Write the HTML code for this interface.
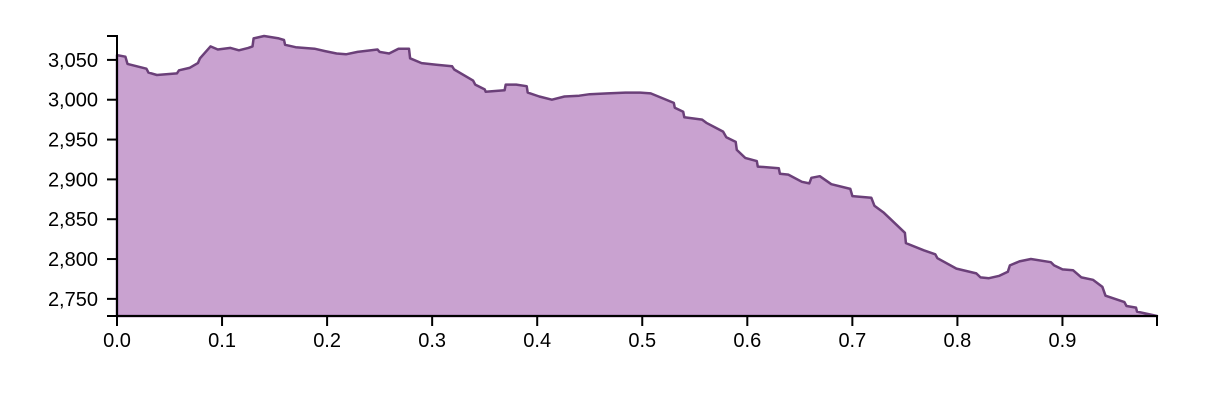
<!DOCTYPE html>
<html><head><meta charset="utf-8"><style>
body{margin:0;background:#fff;}
svg text{font-family:"Liberation Sans",Arial,sans-serif;font-size:20px;fill:#000;}
</style></head><body>
<svg id="chart" width="1216" height="400"></svg>
<script>
const xValues=[0,.008,.010,.028,.030,.038,.057,.059,.069,.077,.079,.089,.096,.108,.116,.125,.129,.130,.140,.154,.159,.160,.170,.188,.198,.209,.218,.229,.248,.250,.259,.268,.278,.279,.290,.304,.319,.321,.339,.341,.350,.351,.369,.370,.380,.390,.391,.402,.414,.426,.440,.450,.467,.484,.498,.508,.530,.531,.539,.540,.557,.561,.577,.580,.589,.590,.598,.609,.610,.630,.631,.639,.652,.659,.661,.669,.680,.698,.700,.718,.721,.730,.750,.751,.768,.779,.781,.799,.818,.822,.830,.840,.848,.850,.859,.870,.889,.892,.900,.910,.918,.929,.938,.941,.959,.961,.970,.971,.990];
const yValues=[3056,3054,3045,3039,3034,3031,3033,3037,3040,3046,3052,3067,3063,3065,3062,3065,3067,3077,3080,3077,3075,3069,3066,3064,3061,3058,3057,3060,3063,3060,3058,3064,3064,3052,3046,3044,3042,3038,3024,3019,3013,3010,3012,3019,3019,3017,3009,3004,3000,3004,3005,3007,3008,3009,3009,3008,2996,2990,2985,2978,2975,2971,2960,2953,2947,2937,2927,2923,2916,2914,2907,2906,2897,2895,2902,2904,2894,2888,2879,2877,2867,2858,2833,2820,2811,2806,2801,2788,2782,2777,2776,2779,2784,2792,2797,2800,2796,2792,2787,2786,2777,2774,2765,2754,2746,2741,2739,2734,2728.5];
const xTicks=[0,0.1,0.2,0.3,0.4,0.5,0.6,0.7,0.8,0.9];
const xTickLabels=["0.0","0.1","0.2","0.3","0.4","0.5","0.6","0.7","0.8","0.9"];
const yTicks=[2750,2800,2850,2900,2950,3000,3050];
const yTickLabels=["2,750","2,800","2,850","2,900","2,950","3,000","3,050"];

const X0=117,X1=1157,Y0=316,Y1=36,TK=10;
const xMin=0,xMax=0.990,yMin=2728.5,yMax=3080;
const sx=v=>X0+(v-xMin)/(xMax-xMin)*(X1-X0);
const sy=v=>Y0-(v-yMin)/(yMax-yMin)*(Y0-Y1);
const NS="http://www.w3.org/2000/svg";
const svg=document.getElementById('chart');
function mk(t,a){const e=document.createElementNS(NS,t);for(const k in a)e.setAttribute(k,a[k]);return e;}

let line="";
for(let i=0;i<xValues.length;i++){line+=(i?"L":"M")+sx(xValues[i]).toFixed(1)+","+sy(yValues[i]).toFixed(1);}
const area=mk('path',{d:line+"L"+sx(xValues[xValues.length-1]).toFixed(1)+","+Y0+"L"+sx(xValues[0]).toFixed(1)+","+Y0+"Z",fill:"#c9a2d0",stroke:"#6b4079","stroke-width":"2.5","stroke-linejoin":"round"});


svg.appendChild(area);

const xg=mk('g',{});


svg.appendChild(xg);
xg.appendChild(mk('path',{d:`M${X0},${Y0+TK}V${Y0}H${X1}V${Y0+TK}`,fill:"none",stroke:"#000","stroke-width":"2"}));
xTicks.forEach((t,i)=>{
  const x=sx(t);
  const tk=mk('line',{x1:x,x2:x,y1:Y0,y2:Y0+TK,stroke:"#000","stroke-width":"2"});
  
  
  xg.appendChild(tk);
  const tx=mk('text',{x:x,y:Y0+31,"text-anchor":"middle"});
  tx.textContent=xTickLabels[i];
  
  
  xg.appendChild(tx);
});

const yg=mk('g',{});


svg.appendChild(yg);
yg.appendChild(mk('path',{d:`M${X0-TK},${Y1}H${X0}V${Y0}H${X0-TK}`,fill:"none",stroke:"#000","stroke-width":"2"}));
yTicks.forEach((t,i)=>{
  const y=sy(t);
  const tk=mk('line',{x1:X0-TK,x2:X0,y1:y,y2:y,stroke:"#000","stroke-width":"2"});
  
  
  yg.appendChild(tk);
  const tx=mk('text',{x:X0-19,y:y+7,"text-anchor":"end"});
  tx.textContent=yTickLabels[i];
  
  
  yg.appendChild(tx);
});
</script>
</body></html>
